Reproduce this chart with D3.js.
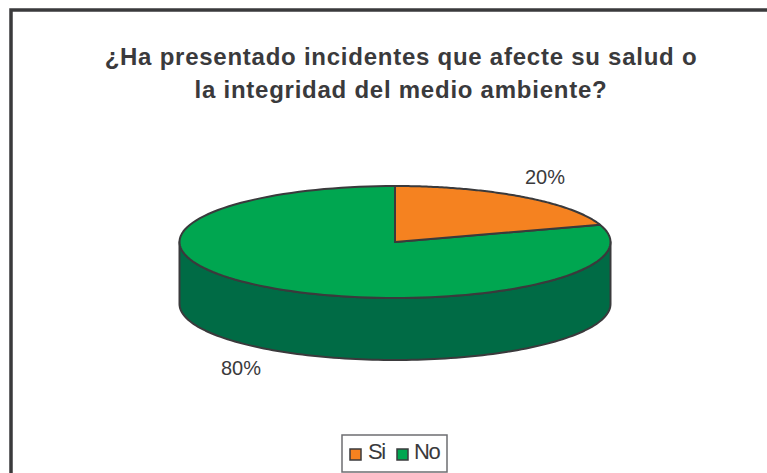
<!DOCTYPE html>
<html><head><meta charset="utf-8">
<script src="https://cdn.jsdelivr.net/npm/d3@7"></script>
<style>html,body{margin:0;padding:0;background:#fff}svg{display:block}text{font-family:"Liberation Sans",Arial,sans-serif}</style>
</head><body>
<svg id="c" width="767" height="473"></svg>
<script>
const categories = ["Si","No"];
const values = [20,80];
const labels = ["20%","80%"];
const colors = ["#f58220","#00a650"];
const titleLines = ["¿Ha presentado incidentes que afecte su salud o","la integridad del medio ambiente?"];

const W=767,H=473, ink="#3a3a3c";
const svg=d3.select("#c");
svg.append("rect").attr("x",11).attr("y",10).attr("width",W+20).attr("height",H+20)
  .attr("fill","#fff").attr("stroke",ink).attr("stroke-width",3.5);

svg.selectAll("text.title").data(titleLines).join("text").attr("class","title")
  .attr("x",401).attr("y",(d,i)=>65+i*32.5).attr("text-anchor","middle")
  .attr("font-size",24).attr("font-weight","bold").attr("fill",ink).attr("letter-spacing",0.75).text(d=>d);

// pie geometry
const cx=395,cy=242,rx=215.5,ry=56,depth=62;
const pie=d3.pie().sort(null).value(d=>d)(values);
const toXY=a=>[cx+rx*Math.sin(a),cy-ry*Math.cos(a)];
function arcPts(a0,a1,n=120){return d3.range(n+1).map(i=>toXY(a0+(a1-a0)*i/n));}
const line=d3.line();

// side wall
const wall=arcPts(Math.PI/2,3*Math.PI/2);
const wallPath=line(wall.concat(wall.slice().reverse().map(p=>[p[0],p[1]+depth])))+"Z";
svg.append("path").attr("d",wallPath).attr("fill","#006b45").attr("stroke",ink).attr("stroke-width",2).attr("stroke-linejoin","round");

// top slices
svg.selectAll("path.slice").data(pie.slice().reverse()).join("path").attr("class","slice")
  .attr("d",d=>line([[cx,cy]].concat(arcPts(d.startAngle,d.endAngle)))+"Z")
  .attr("fill",d=>colors[d.index]).attr("stroke",ink).attr("stroke-width",2).attr("stroke-linejoin","round");

// data labels
const labelPos=[[545,184],[241,375]];
svg.selectAll("text.lab").data(labels).join("text").attr("class","lab")
  .attr("x",(d,i)=>labelPos[i][0]).attr("y",(d,i)=>labelPos[i][1]).attr("text-anchor","middle")
  .attr("font-size",20).attr("fill",ink).text(d=>d);

// legend
svg.append("rect").attr("x",342).attr("y",435).attr("width",105).attr("height",37)
  .attr("fill","#fff").attr("stroke","#6d6e71").attr("stroke-width",1.5);
const lx=[350,397];
categories.forEach((c,i)=>{
  svg.append("rect").attr("x",lx[i]).attr("y",449).attr("width",11).attr("height",11)
    .attr("fill",colors[i]).attr("stroke",ink).attr("stroke-width",1.5);
  svg.append("text").attr("x",lx[i]+18-(i?1:0)).attr("y",459).attr("font-size",22).attr("letter-spacing",-1.5).attr("fill",ink).text(c);
});
</script>
</body></html>
